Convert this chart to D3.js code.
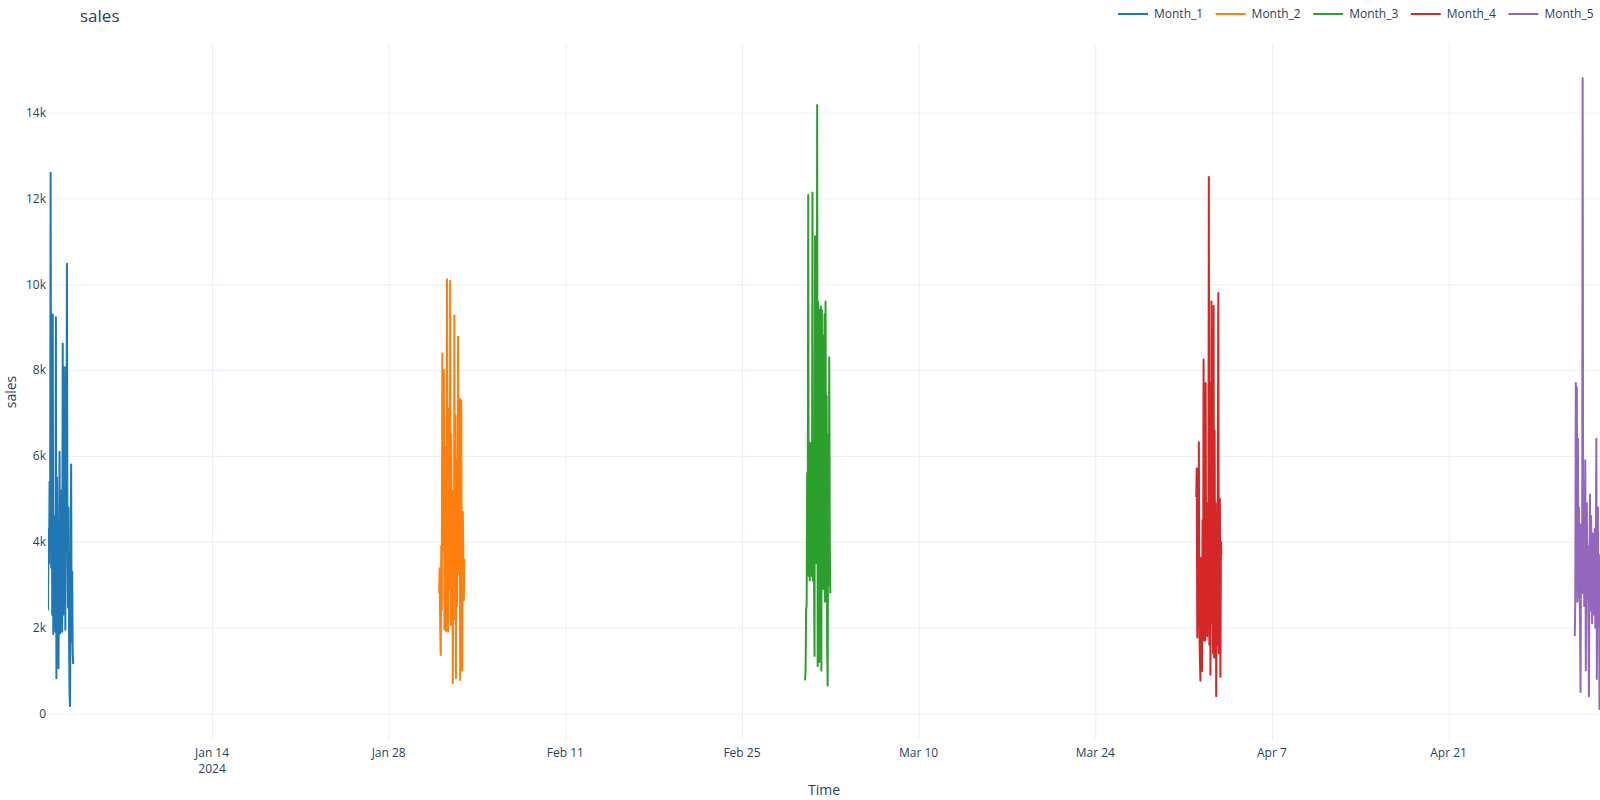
<!DOCTYPE html>
<html lang="en">
	<head>
		<meta charset="utf-8">
		<title>sales</title>
		<script type="text/javascript" src="https://cdn.jsdelivr.net/npm/d3@7"></script>
		<style type="text/css">
			body{
				margin: 0px;
				overflow: hidden;
				background: #fff;
			}
			text{
				font-family: "Open Sans", verdana, arial, sans-serif;
				fill: #2a3f5f;
			}
			.tick text{
				font-size: 12px;
			}
			.grid line{
				stroke: #EBF0F8;
				stroke-width: 1;
			}
			.axis-label{
				font-size: 14px;
			}
			.title{
				font-size: 17px;
			}
			.legend text{
				font-size: 12px;
			}
			.line-path{
				fill: none;
				stroke-width: 2;
				stroke-linejoin: round;
			}
		</style>
	</head>
	<body>
		<script type="text/javascript">

			//Data: hourly sales for the first two days of each month
			const seriesNames = ['Month_1', 'Month_2', 'Month_3', 'Month_4', 'Month_5'];
			const seriesStarts = ['2024-01-01T00:00', '2024-02-01T00:00', '2024-03-01T00:00', '2024-04-01T00:00', '2024-05-01T00:00'];

			const month1 = [2400, 4300, 3500, 5400, 4100, 12600, 3400, 9300, 2300, 9290, 1850, 4600, 2400, 3800, 1900, 9230, 820,
				5500, 2000, 4400, 1050, 4300, 6100, 1860, 3900, 2600, 5200, 1900, 8620, 2300, 8070, 4300, 6900, 1950, 8070,
				3900, 10480, 3920, 2470, 4800, 1900, 460, 170, 3300, 5800, 1660, 3300, 1400, 1150];
			const month2 = [2800, 3380, 2000, 1360, 3900, 2400, 8390, 3800, 6300, 8000, 1950, 6200, 3900, 1920, 5400, 10120, 4000,
				1900, 7100, 2900, 4600, 10080, 2060, 6500, 3100, 5200, 700, 4300, 2200, 9270, 3400, 6950, 820, 5900, 2500,
				4100, 8780, 3270, 5600, 7340, 780, 4800, 7300, 3300, 1000, 4700, 3600, 2640, 3600];
			const month3 = [770, 1000, 2430, 2500, 5600, 3300, 12080, 3200, 5600, 3100, 6300, 3300, 4800, 3200, 12140, 3100, 6300,
				3300, 1340, 11120, 4800, 9500, 3500, 14180, 1100, 9590, 4400, 1200, 9400, 3100, 9480, 1000, 9400, 3100, 8800,
				2900, 6900, 9300, 2600, 9600, 3200, 7400, 1500, 650, 6500, 3000, 8300, 4000, 2800];
			const month4 = [5040, 5710, 1770, 4000, 2500, 6320, 2000, 1260, 760, 3630, 2200, 990, 4500, 2000, 8250, 1700, 4900,
				1700, 7700, 1900, 4900, 1800, 4000, 2600, 12500, 1600, 7700, 900, 3400, 9600, 2100, 5200, 1400, 9500, 1300,
				6600, 2300, 4900, 400, 3100, 1600, 5000, 9800, 1400, 3900, 5000, 850, 4000, 3700];
			const month5 = [1800, 2600, 7700, 3500, 7600, 2600, 6400, 2700, 4800, 3400, 2000, 500, 4400, 3200, 2800, 14800, 3100,
				4100, 2500, 3600, 5900, 1000, 3900, 4900, 2700, 3900, 1900, 400, 3500, 5100, 2400, 4600, 3700, 2100, 4200,
				3000, 3500, 2300, 4300, 2000, 3700, 6400, 800, 3300, 4800, 2000, 3700, 100, 2200];

			const seriesValues = [month1, month2, month3, month4, month5];
			const colors = ['#1f77b4', '#ff7f0e', '#2ca02c', '#d62728', '#9467bd'];

			//Axis ticks
			const xTicks = ['2024-01-14', '2024-01-28', '2024-02-11', '2024-02-25', '2024-03-10', '2024-03-24', '2024-04-07', '2024-04-21'];
			const yTicks = [0, 2000, 4000, 6000, 8000, 10000, 12000, 14000];
			const yTickLabels = ['0', '2k', '4k', '6k', '8k', '10k', '12k', '14k'];
			const xRange = ['2024-01-01T00:00', '2024-05-03T00:00'];
			const yRange = [-620, 15600];

			//Width and height
			const width = 1600;
			const height = 800;
			const margin = { top: 44, right: 0, bottom: 60, left: 48 };
			const innerWidth = width - margin.left - margin.right;
			const innerHeight = height - margin.top - margin.bottom;

			const parseTime = d3.timeParse('%Y-%m-%dT%H:%M');
			const parseDay = d3.timeParse('%Y-%m-%d');
			const hour = 3600 * 1000;

			//Build rows of {time, value} for each series
			const series = seriesNames.map((name, i) => {
				const start = parseTime(seriesStarts[i]);
				return {
					name: name,
					color: colors[i],
					values: seriesValues[i].map((v, h) => ({ time: new Date(start.getTime() + h * hour), value: v }))
				};
			});

			const xScale = d3.scaleTime()
				.domain(xRange.map(parseTime))
				.range([0, innerWidth]);

			const yScale = d3.scaleLinear()
				.domain(yRange)
				.range([innerHeight, 0]);

			//Create SVG element
			const svg = d3.select('body')
				.append('svg')
				.attr('width', width)
				.attr('height', height);

			const g = svg.append('g')
				.attr('transform', `translate(${margin.left},${margin.top})`);

			//Vertical grid lines
			const xAxis = d3.axisBottom(xScale)
				.tickValues(xTicks.map(parseDay))
				.tickSize(-innerHeight);

			const xGridG = g.append('g')
				.attr('class', 'grid')
				.attr('transform', `translate(0, ${innerHeight})`)
				.call(xAxis);
			xGridG.selectAll('.domain').remove();
			xGridG.selectAll('.tick text').remove();

			//Y axis with horizontal grid lines
			const yAxis = d3.axisLeft(yScale)
				.tickValues(yTicks)
				.tickSize(-innerWidth)
				.tickPadding(2)
				.tickFormat((d, i) => yTickLabels[i]);

			const yAxisG = g.append('g')
				.attr('class', 'grid')
				.call(yAxis);
			yAxisG.selectAll('.domain').remove();
			yAxisG.selectAll('.tick line')
				.attr('stroke-width', d => d === 0 ? 2 : 1);
			yAxisG.selectAll('.tick text')
				.attr('x', -2);

			//X tick labels (year under the first one)
			const formatDay = d3.timeFormat('%b %-d');
			const xLabels = g.append('g');
			xTicks.map(parseDay).forEach((d, i) => {
				const t = xLabels.append('text')
					.attr('x', xScale(d))
					.attr('y', innerHeight + 17)
					.attr('text-anchor', 'middle')
					.style('font-size', '12px');
				t.append('tspan')
					.attr('x', xScale(d))
					.text(formatDay(d));
				if (i === 0) {
					t.append('tspan')
						.attr('x', xScale(d))
						.attr('dy', 15.6)
						.text(d3.timeFormat('%Y')(d));
				}
			});

			//Lines
			svg.append('clipPath')
				.attr('id', 'clip')
				.append('rect')
				.attr('width', innerWidth)
				.attr('height', innerHeight);

			const lineGenerator = d3.line()
				.x(d => xScale(d.time))
				.y(d => yScale(d.value));

			g.append('g')
				.attr('clip-path', 'url(#clip)')
				.selectAll('path')
				.data(series)
				.enter()
				.append('path')
				.attr('class', 'line-path')
				.attr('stroke', d => d.color)
				.attr('d', d => lineGenerator(d.values));

			//Axis labels and title
			svg.append('text')
				.attr('class', 'axis-label')
				.attr('x', margin.left + innerWidth / 2)
				.attr('y', 795)
				.attr('text-anchor', 'middle')
				.text('Time');

			svg.append('text')
				.attr('class', 'axis-label')
				.attr('transform', `translate(16, ${margin.top + innerHeight / 2}) rotate(-90)`)
				.attr('text-anchor', 'middle')
				.text('sales');

			svg.append('text')
				.attr('class', 'title')
				.attr('x', 80)
				.attr('y', 22)
				.text('sales');

			//Legend
			const legend = svg.append('g')
				.attr('class', 'legend');

			const legendItems = legend.selectAll('g')
				.data(series)
				.enter()
				.append('g')
				.attr('transform', (d, i) => `translate(${1118 + i * 97.6}, 14)`);

			legendItems.append('line')
				.attr('x1', 0)
				.attr('x2', 30)
				.attr('stroke', d => d.color)
				.attr('stroke-width', 2);

			legendItems.append('text')
				.attr('x', 36)
				.attr('dy', '0.35em')
				.text(d => d.name);

		</script>
	</body>
</html>
